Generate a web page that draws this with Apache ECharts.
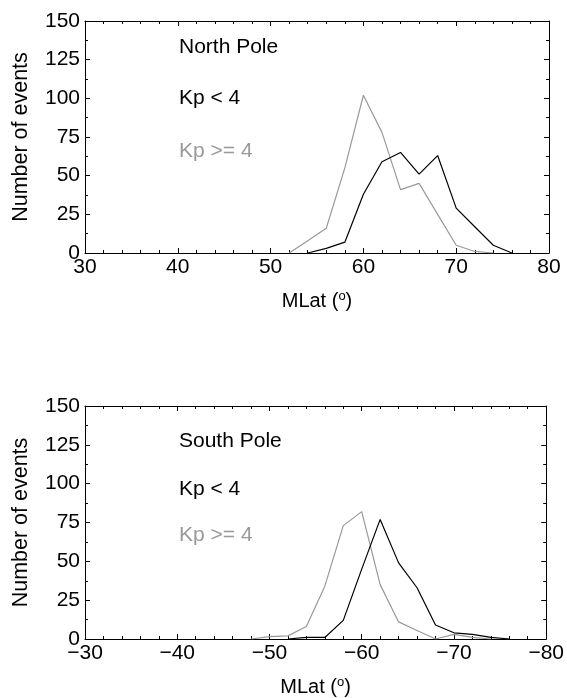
<!DOCTYPE html>
<html>
<head>
<meta charset="utf-8">
<script src="https://cdn.jsdelivr.net/npm/echarts@6/dist/echarts.min.js"></script>
<style>
html,body{margin:0;padding:0;background:#fff;}
#chart{width:567px;height:698px;}
</style>
</head>
<body>
<div id="chart"></div>
<script>
// ---- data ----
const northKpLowLat  = [54, 56, 58, 60, 62, 64, 66, 68, 70, 72, 74, 76];
const northKpLow     = [0, 3, 7, 38, 59, 65, 51, 63, 29, 17, 5, 0];
const northKpHighLat = [52, 54, 56, 58, 60, 62, 64, 66, 68, 70, 72, 74];
const northKpHigh    = [0, 8, 16, 55, 102, 78, 41, 45, 25, 5, 1, 0];

const southKpLowLat  = [-52, -54, -56, -58, -60, -62, -64, -66, -68, -70, -72, -74, -76];
const southKpLow     = [0, 1, 1, 12, 45, 77, 49, 33, 9, 4, 3, 1, 0];
const southKpHighLat = [-48, -50, -52, -54, -56, -58, -60, -62, -64, -66, -68, -70, -72, -74];
const southKpHigh    = [0, 1.5, 2, 8, 34, 73, 82, 35, 11, 5.5, 0, 3, 1, 0];

const yTicks = [0, 25, 50, 75, 100, 125, 150];
const northXTicks = [30, 40, 50, 60, 70, 80];
const southXTicks = [-30, -40, -50, -60, -70, -80];

const labels = {
  north: 'North Pole', south: 'South Pole', low: 'Kp < 4', high: 'Kp >= 4',
  yTitle: 'Number of events'
};

// ---- chart ----
const FONT = 'Liberation Sans, Arial, Helvetica, sans-serif';
const BLACK = '#000000';
const GRAY = '#999999';
const chart = echarts.init(document.getElementById('chart'), null, {renderer: 'canvas'});

function pairs(xs, ys) { return xs.map((x, i) => [x, ys[i]]); }
function fmtX(v) { return v < 0 ? '\u2212' + Math.abs(v) : String(v); }

const tickStyle = {color: BLACK, width: 1};
function xAxisDef(grid, min, max, inverse, pos, showLabel) {
  return {
    gridIndex: grid, type: 'value', min: min, max: max, interval: 10, inverse: inverse,
    position: pos,
    axisLine: {show: true, onZero: false, lineStyle: {color: BLACK, width: 1}},
    axisTick: {show: true, inside: true, length: 5, lineStyle: tickStyle},
    minorTick: {show: true, splitNumber: 5, length: 3, lineStyle: tickStyle},
    splitLine: {show: false},
    axisLabel: {show: showLabel, fontSize: 21, color: BLACK, fontFamily: FONT, margin: 4, formatter: fmtX},
    name: showLabel ? 'MLat ({sup|o})' : '',
    nameLocation: 'middle', nameGap: 37,
    nameTextStyle: {fontSize: 20, color: BLACK, fontFamily: FONT,
      rich: {sup: {fontSize: 13, color: BLACK, fontFamily: FONT, padding: [0, 0, 9, 0]}}}
  };
}
function yAxisDef(grid, pos, showLabel) {
  return {
    gridIndex: grid, type: 'value', min: 0, max: 150, interval: 25, position: pos,
    axisLine: {show: true, lineStyle: {color: BLACK, width: 1}},
    axisTick: {show: true, inside: true, length: 5, lineStyle: tickStyle},
    minorTick: {show: true, splitNumber: 2, length: 3, lineStyle: tickStyle},
    splitLine: {show: false},
    axisLabel: {show: showLabel, fontSize: 21, color: BLACK, fontFamily: FONT, margin: 5},
    name: showLabel ? labels.yTitle : '',
    nameLocation: 'middle', nameGap: 53,
    nameTextStyle: {fontSize: 21.5, color: BLACK, fontFamily: FONT}
  };
}
function lineSeries(xi, yi, data, color) {
  return {
    type: 'line', xAxisIndex: xi, yAxisIndex: yi, data: data,
    symbol: 'none', smooth: false, lineStyle: {color: color, width: 1.2}, silent: true
  };
}
function txt(x, y, text, color) {
  return {type: 'text', left: x, top: y,
    style: {text: text, fill: color, font: '21px ' + FONT}};
}

const option = {
  animation: false,
  backgroundColor: '#ffffff',
  grid: [
    {left: 85, top: 21, width: 464, height: 232},
    {left: 85, top: 406, width: 464, height: 233}
  ],
  xAxis: [
    xAxisDef(0, northXTicks[0], northXTicks[northXTicks.length - 1], false, 'bottom', true),
    xAxisDef(0, northXTicks[0], northXTicks[northXTicks.length - 1], false, 'top', false),
    xAxisDef(1, southXTicks[southXTicks.length - 1], southXTicks[0], true, 'bottom', true),
    xAxisDef(1, southXTicks[southXTicks.length - 1], southXTicks[0], true, 'top', false)
  ],
  yAxis: [
    yAxisDef(0, 'left', true),
    yAxisDef(0, 'right', false),
    yAxisDef(1, 'left', true),
    yAxisDef(1, 'right', false)
  ],
  series: [
    lineSeries(0, 0, pairs(northKpHighLat, northKpHigh), GRAY),
    lineSeries(0, 0, pairs(northKpLowLat, northKpLow), BLACK),
    lineSeries(2, 2, pairs(southKpHighLat, southKpHigh), GRAY),
    lineSeries(2, 2, pairs(southKpLowLat, southKpLow), BLACK)
  ],
  graphic: [
    txt(179, 37, labels.north, BLACK),
    txt(179, 88, labels.low, BLACK),
    txt(179, 141, labels.high, GRAY),
    txt(179, 431, labels.south, BLACK),
    txt(179, 479, labels.low, BLACK),
    txt(179, 525, labels.high, GRAY)
  ]
};
chart.setOption(option);
</script>
</body>
</html>
